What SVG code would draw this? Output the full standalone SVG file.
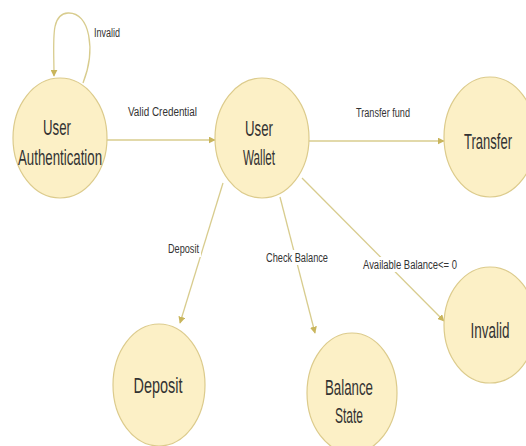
<svg xmlns="http://www.w3.org/2000/svg" width="526" height="446" viewBox="0 0 526 446">
<style>
.node ellipse{fill:#fcf0c6;stroke:#dccb8c;stroke-width:1.2}
.node text{font-family:"Liberation Sans",Arial,sans-serif;font-size:22px;fill:#333333;text-anchor:middle}
.edge{fill:none;stroke:#d8cc8e;stroke-width:1.3}
.lbl rect{fill:#ffffff}
.lbl text{font-family:"Liberation Sans",Arial,sans-serif;font-size:12px;fill:#333333}
</style>
<defs>
<marker id="arr" viewBox="0 0 10 10" refX="9" refY="5" markerWidth="7" markerHeight="7" orient="auto" markerUnits="userSpaceOnUse">
<path d="M0,0 L10,5 L0,10 z" fill="#c9b55c"/>
</marker>
</defs>
<rect width="526" height="446" fill="#ffffff"/>
<g id="connectors">
<path class="edge" d="M83,83 C96,50 90,12 68,13 C50,14 54,40 54,76" marker-end="url(#arr)"/>
<path class="edge" d="M107,140 L215,140" stroke-width="2" marker-end="url(#arr)"/>
<path class="edge" d="M309,141 L444,141" stroke-width="2" marker-end="url(#arr)"/>
<path class="edge" d="M223,183 L180,323" marker-end="url(#arr)"/>
<path class="edge" d="M280,197 L315,333" marker-end="url(#arr)"/>
<path class="edge" d="M302,178 L444,321" marker-end="url(#arr)"/>
<g class="lbl"><rect x="92" y="26" width="30" height="14"/><text x="94" y="37" textLength="26" lengthAdjust="spacingAndGlyphs">Invalid</text></g>
<g class="lbl"><rect x="126" y="104" width="73" height="15"/><text x="128" y="116" textLength="69" lengthAdjust="spacingAndGlyphs">Valid Credential</text></g>
<g class="lbl"><rect x="354" y="105" width="58" height="15"/><text x="356" y="117" textLength="54" lengthAdjust="spacingAndGlyphs">Transfer fund</text></g>
<g class="lbl"><rect x="166" y="240" width="35" height="17"/><text x="168" y="253" textLength="31" lengthAdjust="spacingAndGlyphs">Deposit</text></g>
<g class="lbl"><rect x="264" y="250" width="66" height="15"/><text x="266" y="262" textLength="62" lengthAdjust="spacingAndGlyphs">Check Balance</text></g>
<g class="lbl"><rect x="361" y="257" width="98" height="15"/><text x="363" y="269" textLength="94" lengthAdjust="spacingAndGlyphs">Available Balance&lt;= 0</text></g>
</g>
<g id="user-authentication" class="node">
<ellipse cx="60" cy="138" rx="47" ry="60"/>
<text x="57" y="135" textLength="28" lengthAdjust="spacingAndGlyphs">User</text>
<text x="60" y="165" textLength="84" lengthAdjust="spacingAndGlyphs">Authentication</text>
</g>
<g id="user-wallet" class="node">
<ellipse cx="262" cy="138" rx="47" ry="60"/>
<text x="259" y="136" textLength="28" lengthAdjust="spacingAndGlyphs">User</text>
<text x="259" y="165" textLength="32" lengthAdjust="spacingAndGlyphs">Wallet</text>
</g>
<g id="transfer" class="node">
<ellipse cx="490" cy="137" rx="46" ry="60"/>
<text x="488" y="149" textLength="48" lengthAdjust="spacingAndGlyphs">Transfer</text>
</g>
<g id="deposit" class="node">
<ellipse cx="159" cy="385" rx="46" ry="61"/>
<text x="158" y="393" textLength="49" lengthAdjust="spacingAndGlyphs">Deposit</text>
</g>
<g id="balance-state" class="node">
<ellipse cx="352" cy="393" rx="45" ry="60"/>
<text x="349" y="395" textLength="48" lengthAdjust="spacingAndGlyphs">Balance</text>
<text x="349" y="423" textLength="28" lengthAdjust="spacingAndGlyphs">State</text>
</g>
<g id="invalid" class="node">
<ellipse cx="490" cy="325" rx="46" ry="58"/>
<text x="490" y="338" textLength="39" lengthAdjust="spacingAndGlyphs">Invalid</text>
</g>
</svg>
